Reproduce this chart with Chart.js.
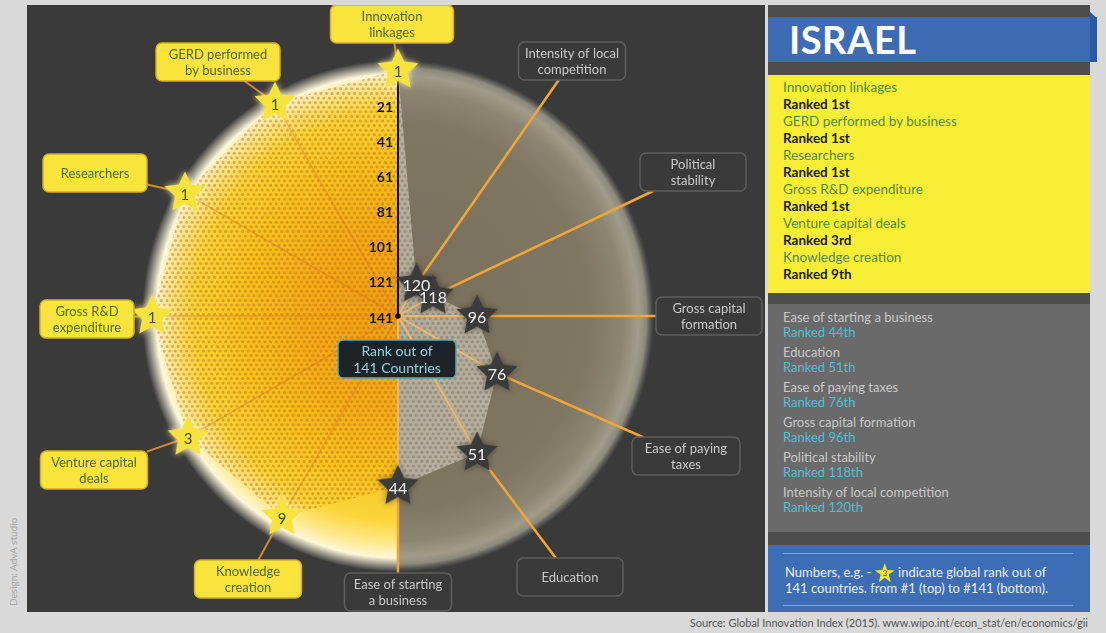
<!DOCTYPE html>
<html>
<head>
<meta charset="utf-8">
<script src="https://cdn.jsdelivr.net/npm/chart.js@4.4.1/dist/chart.umd.min.js"></script>
<style>
  body { margin: 0; width: 1106px; height: 633px; background: #d9d9d9; font-family: Lato, "Open Sans", sans-serif; position: relative; overflow: hidden; }
  #left { position: absolute; left: 27px; top: 5px; width: 738px; height: 607px; background: #3a3a3a; }
  #left canvas { position: absolute; left: 0; top: 0; }
  #side { position: absolute; left: 768px; top: 5px; width: 322px; height: 607px; background: #4d4d4d; }
  #band { position: absolute; left: 0; top: 12px; width: 329px; height: 45px; background: #3d6cb4; }
  #fold { position: absolute; left: 322px; top: 7px; width: 7px; height: 50px; background: #2b5aa5; clip-path: polygon(0 0, 100% 12%, 100% 100%, 0 100%); }
  #band span { position: absolute; left: 21px; top: 0; line-height: 45px; font-size: 38px; font-weight: bold; color: #fff; letter-spacing: 0.5px; }
  #top { position: absolute; left: 0; top: 70px; width: 322px; height: 218px; background: #f8ee36; padding-top: 4px; box-sizing: border-box; }
  #top div { padding-left: 15px; font-size: 13.5px; line-height: 17px; }
  #top .cat { color: #4f8a45; }
  #top .rk { color: #1c1c1c; font-weight: bold; }
  #rest { position: absolute; left: 0; top: 299px; width: 322px; height: 228px; background: #6a6a6a; padding-top: 6px; box-sizing: border-box; }
  #rest div { padding-left: 15px; font-size: 13px; line-height: 15px; }
  #rest .cat { color: #c8c8c8; }
  #rest .rk { color: #52bfd6; margin-bottom: 5px; }
  #note { position: absolute; left: 0; top: 540px; width: 322px; height: 67px; background: #3d6db4; }
  #note .ln { position: absolute; left: 15px; width: 290px; height: 1px; background: #79a6e0; }
  #note p { position: absolute; left: 17px; top: 19px; margin: 0; color: #e8eef8; font-size: 13px; line-height: 16px; }
  .mini { display: inline-block; width: 20px; height: 19px; margin: -6px 0 -4px; background: #f7e23a; vertical-align: middle; clip-path: polygon(50% 0, 62% 36%, 100% 38%, 70% 60%, 80% 100%, 50% 77%, 20% 100%, 30% 60%, 0 38%, 38% 36%); text-align: center; font-size: 8px; line-height: 21px; color: #3f4f1f; }
  #source { position: absolute; right: 18px; top: 616px; font-size: 11px; color: #555; }
  #design { position: absolute; left: 7px; top: 606px; transform: rotate(-90deg); transform-origin: 0 0; font-size: 10px; color: #a5a5a5; white-space: nowrap; }
</style>
</head>
<body>
<div id="left"><canvas id="chart" width="738" height="607"></canvas></div>
<div id="side">
  <div id="band"><span>ISRAEL</span></div>
  <div id="fold"></div>
  <div id="top"></div>
  <div id="rest"></div>
  <div id="note">
    <div class="ln" style="top:8px"></div>
    <p>Numbers, e.g. - <span class="mini">3</span> indicate global rank out of<br>141 countries. from #1 (top) to #141 (bottom).</p>
    <div class="ln" style="top:60px"></div>
  </div>
</div>
<div id="source">Source: Global Innovation Index (2015). www.wipo.int/econ_stat/en/economics/gii</div>
<div id="design">Design: AdvA studio</div>
<script>
// data
let categories = ['Innovation linkages', 'Intensity of local competition', 'Political stability',
  'Gross capital formation', 'Ease of paying taxes', 'Education', 'Ease of starting a business',
  'Knowledge creation', 'Venture capital deals', 'Gross R&D expenditure', 'Researchers',
  'GERD performed by business'];
let ranks = [1, 120, 118, 96, 76, 51, 44, 9, 3, 1, 1, 1];
let tickValues = [21, 41, 61, 81, 101, 121, 141];
let totalCountries = 141;
let topCutoff = 10;

// label boxes: offset of box centre from the chart centre, box width, words on first line
let labelBoxes = [
  {dx: -6, dy: -292, w: 123, br: 1},
  {dx: 174, dy: -255, w: 107, br: 3},
  {dx: 295, dy: -144, w: 106, br: 1},
  {dx: 311, dy: 0, w: 106, br: 2},
  {dx: 288, dy: 140, w: 108, br: 3},
  {dx: 172, dy: 261, w: 106, br: 0},
  {dx: 0, dy: 276, w: 107, br: 3},
  {dx: -150, dy: 263, w: 107, br: 1},
  {dx: -304, dy: 154, w: 107, br: 2},
  {dx: -311, dy: 3, w: 94, br: 2},
  {dx: -303, dy: -143, w: 104, br: 0},
  {dx: -180, dy: -254, w: 124, br: 2}
];

function ordinal(n) {
  return n + (n === 1 ? 'st' : n === 2 ? 'nd' : n === 3 ? 'rd' : 'th');
}

// side panel lists
let order = categories.map((c, i) => i)
  .sort((a, b) => ranks[a] - ranks[b] || ((12 - a) % 12) - ((12 - b) % 12));
let topHtml = '', restHtml = '';
order.forEach(i => {
  let row = '<div class="cat">' + categories[i].replace('&', '&amp;') + '</div><div class="rk">Ranked ' + ordinal(ranks[i]) + '</div>';
  if (ranks[i] <= topCutoff) topHtml += row; else restHtml += row;
});
document.getElementById('top').innerHTML = topHtml;
document.getElementById('rest').innerHTML = restHtml;

function makeStar(fill, glow) {
  let c = document.createElement('canvas');
  c.width = c.height = 52;
  let g = c.getContext('2d');
  g.beginPath();
  for (let k = 0; k < 10; k++) {
    let r = k % 2 ? 10.5 : 21.5;
    let a = -Math.PI / 2 + k * Math.PI / 5;
    g.lineTo(26 + r * Math.cos(a), 26 + r * Math.sin(a));
  }
  g.closePath();
  g.shadowColor = glow;
  g.shadowBlur = 6;
  g.fillStyle = fill;
  g.fill();
  return c;
}
let starGold = makeStar('#f8e23c', 'rgba(255,245,170,0.9)');
let starDark = makeStar('#3b3b3b', 'rgba(20,20,20,0.5)');

let fillPattern = null;
function polygonFill(ctx) {
  let chart = ctx.chart, r = chart.scales.r;
  if (!r || !r.drawingArea) return 'transparent';
  if (fillPattern) return fillPattern;
  let c = document.createElement('canvas');
  c.width = chart.width;
  c.height = chart.height;
  let g = c.getContext('2d');
  g.fillStyle = 'rgba(240,150,10,0.08)';
  g.fillRect(0, 0, r.xCenter, c.height);
  g.fillStyle = 'rgba(228,223,205,0.55)';
  g.fillRect(r.xCenter, 0, c.width - r.xCenter, c.height);
  let row = 0;
  for (let y = 1; y < c.height; y += 4.6, row++) {
    for (let x = (row % 2) * 2.8; x < c.width; x += 5.6) {
      g.fillStyle = x < r.xCenter ? 'rgba(165,105,15,0.42)' : 'rgba(110,100,82,0.42)';
      g.beginPath();
      g.arc(x, y, 1.55, 0, Math.PI * 2);
      g.fill();
    }
  }
  fillPattern = chart.ctx.createPattern(c, 'no-repeat');
  return fillPattern;
}

function roundRect(g, x, y, w, h, rad) {
  g.beginPath();
  g.moveTo(x + rad, y);
  g.arcTo(x + w, y, x + w, y + h, rad);
  g.arcTo(x + w, y + h, x, y + h, rad);
  g.arcTo(x, y + h, x, y, rad);
  g.arcTo(x, y, x + w, y, rad);
  g.closePath();
}

function edgePoint(px, py, bx, by, w, h) {
  let dx = px - bx, dy = py - by;
  let s = Math.min(Math.abs(w / 2 / dx), Math.abs(h / 2 / dy));
  return [bx + dx * s, by + dy * s];
}

const glowPlugin = {
  id: 'glow',
  beforeDraw(chart) {
    let r = chart.scales.r, g = chart.ctx;
    let cx = r.xCenter, cy = r.yCenter, R = r.drawingArea + 10;
    g.save();
    g.beginPath();
    g.rect(0, 0, cx, chart.height);
    g.clip();
    let grd = g.createRadialGradient(cx, cy, 0, cx, cy, R);
    grd.addColorStop(0, '#f29c14');
    grd.addColorStop(0.35, '#f5ab18');
    grd.addColorStop(0.6, '#f8c21e');
    grd.addColorStop(0.8, '#fbd63a');
    grd.addColorStop(0.89, '#fde98e');
    grd.addColorStop(0.945, '#fff7d8');
    grd.addColorStop(1, 'rgba(255,250,230,0)');
    g.fillStyle = grd;
    g.beginPath();
    g.arc(cx, cy, R, 0, Math.PI * 2);
    g.fill();
    g.restore();

    g.save();
    g.beginPath();
    g.rect(cx, 0, chart.width - cx, chart.height);
    g.clip();
    grd = g.createRadialGradient(cx, cy, 0, cx, cy, R);
    grd.addColorStop(0, '#786e5b');
    grd.addColorStop(0.75, '#807763');
    grd.addColorStop(0.88, '#8b8571');
    grd.addColorStop(0.94, '#a19c89');
    grd.addColorStop(0.97, '#8d8a7c');
    grd.addColorStop(1, 'rgba(110,108,100,0)');
    g.fillStyle = grd;
    g.beginPath();
    g.arc(cx, cy, R, 0, Math.PI * 2);
    g.fill();
    g.restore();
  }
};

const decorPlugin = {
  id: 'decor',
  beforeDatasetsDraw(chart) {
    let r = chart.scales.r, g = chart.ctx;
    let cx = r.xCenter, cy = r.yCenter;
    let pts = chart.getDatasetMeta(0).data;
    g.save();
    g.lineCap = 'round';
    pts.forEach((p, i) => {
      let b = labelBoxes[i];
      let bx = cx + b.dx, by = cy + b.dy;
      let e = edgePoint(p.x, p.y, bx, by, b.w, 38);
      let gold = ranks[i] <= topCutoff;
      if (i > 0) {
        g.strokeStyle = gold ? 'rgba(214,112,30,0.4)' : 'rgba(246,186,96,0.9)';
        g.lineWidth = gold ? 1.5 : 2;
        g.beginPath();
        g.moveTo(cx, cy);
        g.lineTo(p.x, p.y);
        g.stroke();
      }
      g.strokeStyle = gold ? '#d08a2c' : '#f0a535';
      g.lineWidth = gold ? 2 : 2.5;
      g.beginPath();
      g.moveTo(p.x, p.y);
      g.lineTo(e[0], e[1]);
      g.stroke();
    });
    // rank axis
    g.strokeStyle = '#111';
    g.lineWidth = 2;
    g.beginPath();
    g.moveTo(cx, cy);
    g.lineTo(pts[0].x, pts[0].y);
    g.stroke();
    g.fillStyle = '#111';
    g.beginPath();
    g.arc(cx, cy, 2.8, 0, Math.PI * 2);
    g.fill();
    g.restore();
  },
  afterDatasetsDraw(chart) {
    let r = chart.scales.r, g = chart.ctx;
    let cx = r.xCenter, cy = r.yCenter;
    let pts = chart.getDatasetMeta(0).data;
    g.save();
    g.textAlign = 'center';
    g.textBaseline = 'middle';
    // numbers on stars
    pts.forEach((p, i) => {
      let gold = ranks[i] <= topCutoff;
      g.fillStyle = gold ? '#3f4f1f' : '#f2f2f2';
      g.font = (gold ? '15px' : '16px') + ' Lato, sans-serif';
      g.fillText(String(ranks[i]), p.x, p.y + 2);
    });
    // tick labels along the rank axis
    g.textAlign = 'right';
    g.font = 'bold 14px Lato, sans-serif';
    g.fillStyle = '#151515';
    tickValues.forEach(v => {
      g.fillText(String(v), cx - 5, cy - r.getDistanceFromCenterForValue(v) + 2);
    });
    // label boxes
    g.textAlign = 'center';
    g.font = '13px Lato, sans-serif';
    labelBoxes.forEach((b, i) => {
      let gold = ranks[i] <= topCutoff;
      let bx = cx + b.dx, by = cy + b.dy;
      roundRect(g, bx - b.w / 2, by - 19, b.w, 38, 6);
      g.fillStyle = gold ? '#f8e43a' : '#3a3a3a';
      g.fill();
      g.lineWidth = 1.5;
      g.strokeStyle = gold ? '#d2ad26' : '#5e5e5e';
      g.stroke();
      let words = categories[i].split(' ');
      let lines = b.br ? [words.slice(0, b.br).join(' '), words.slice(b.br).join(' ')] : [categories[i]];
      g.fillStyle = gold ? '#4d6a2e' : '#c9c9c9';
      lines.forEach((t, k) => g.fillText(t, bx, by + (k - (lines.length - 1) / 2) * 16 + 1));
    });
    // rank caption box
    roundRect(g, cx - 60, cy + 24, 118, 38, 5);
    g.fillStyle = '#1d2427';
    g.fill();
    g.strokeStyle = '#5aa9ba';
    g.lineWidth = 1.5;
    g.stroke();
    g.fillStyle = '#8fd3e3';
    g.font = '14px Lato, sans-serif';
    g.fillText('Rank out of', cx - 1, cy + 35);
    g.fillText(totalCountries + ' Countries', cx - 1, cy + 52);
    g.restore();
  }
};

let ctx = document.getElementById('chart').getContext('2d');

let chart = new Chart(ctx, {
  type: 'radar',
  data: {
    labels: categories,
    datasets: [{
      label: 'Rank',
      data: ranks,
      fill: 'start',
      backgroundColor: polygonFill,
      borderColor: 'transparent',
      borderWidth: 0,
      pointStyle: c => ranks[c.dataIndex] <= topCutoff ? starGold : starDark,
      pointRadius: 21,
      pointHoverRadius: 21
    }]
  },
  options: {
    responsive: false,
    animation: false,
    events: [],
    layout: { padding: 0 },
    plugins: {
      legend: { display: false },
      tooltip: { enabled: false },
      filler: { drawTime: 'beforeDatasetsDraw' }
    },
    scales: {
      r: {
        reverse: true,
        min: 1,
        max: totalCountries,
        ticks: { display: false, stepSize: 20 },
        grid: { display: false },
        angleLines: { display: false },
        pointLabels: { display: false },
        afterFit: s => {
          s.xCenter = 371;
          s.yCenter = 311;
          s.drawingArea = 246;
        }
      }
    }
  },
  plugins: [glowPlugin, decorPlugin]
});
</script>
</body>
</html>
